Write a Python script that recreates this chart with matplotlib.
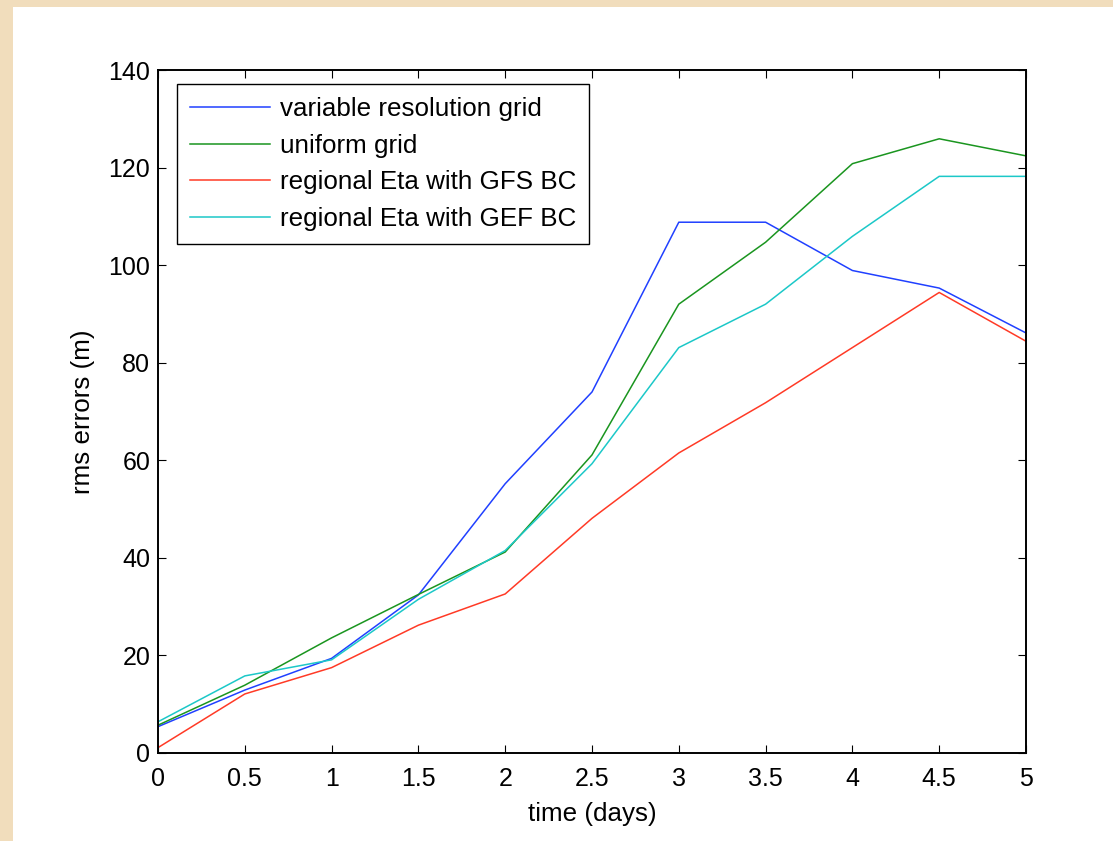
import matplotlib
matplotlib.use("Agg")
import matplotlib.pyplot as plt
from matplotlib.patches import Rectangle

days = [0, 0.5, 1, 1.5, 2, 2.5, 3, 3.5, 4, 4.5, 5]
variable_grid = [5.4, 12.9, 19.4, 32.4, 55.2, 74.0, 108.8, 108.8, 98.9, 95.3, 86.1]
uniform_grid = [5.7, 13.9, 23.6, 32.5, 41.2, 61.1, 92.0, 104.7, 120.8, 125.9, 122.4]
eta_gfs = [1.1, 12.1, 17.5, 26.2, 32.6, 48.1, 61.5, 71.8, 83.1, 94.4, 84.4]
eta_gef = [6.4, 15.8, 19.1, 31.5, 41.5, 59.3, 83.1, 92.0, 105.9, 118.2, 118.2]
labels = ["variable resolution grid", "uniform grid",
          "regional Eta with GFS BC", "regional Eta with GEF BC"]
xticks = [0, 0.5, 1, 1.5, 2, 2.5, 3, 3.5, 4, 4.5, 5]
xticklabels = ["0", "0.5", "1", "1.5", "2", "2.5", "3", "3.5", "4", "4.5", "5"]
yticks = [0, 20, 40, 60, 80, 100, 120, 140]

plt.rcParams['font.family'] = ['Liberation Sans', 'DejaVu Sans']

W, H = 1113, 841
fig = plt.figure(figsize=(W / 100, H / 100), dpi=100)
fig.patch.set_facecolor('#f1ddbc')
bg = Rectangle((13 / W, 0), 1 - 13 / W, 1 - 7 / H,
               transform=fig.transFigure, facecolor='white',
               edgecolor='none', zorder=-10)
fig.patches.append(bg)

ax = fig.add_axes([158 / W, (H - 753) / H, (1026 - 158) / W, (753 - 70) / H])
ax.set_zorder(5)
ax.set_facecolor('white')

colors = ['#2040ff', '#1a951f', '#ff3a26', '#1cc8c8']
series = [variable_grid, uniform_grid, eta_gfs, eta_gef]
for s, c, l in zip(series, colors, labels):
    ax.plot(days, s, color=c, lw=1.1, label=l)

ax.set_xlim(0, 5)
ax.set_ylim(0, 140)
ax.set_xticks(xticks)
ax.set_xticklabels(xticklabels)
ax.set_yticks(yticks)
ax.tick_params(direction='in', length=6, width=0.8, labelsize=18,
               top=True, right=True, colors='black')
ax.tick_params(axis='x', pad=10)
ax.tick_params(axis='y', pad=5.5)
for sp in ax.spines.values():
    sp.set_linewidth(1.4)
    sp.set_color('black')

ax.set_xlabel("time (days)", fontsize=18.7, labelpad=8)
ax.set_ylabel("rms errors (m)", fontsize=18.7, labelpad=10)

leg = ax.legend(loc='upper left', bbox_to_anchor=(18.7 / 868, 1 - 14.3 / 683),
                fontsize=18.7, frameon=True, fancybox=False, framealpha=1,
                edgecolor='black', handlelength=3.08, handletextpad=0.4,
                borderpad=0.5, labelspacing=0.48, borderaxespad=0)
leg.get_frame().set_linewidth(1.0)

fig.savefig("out.png", dpi=100, facecolor=fig.get_facecolor())
